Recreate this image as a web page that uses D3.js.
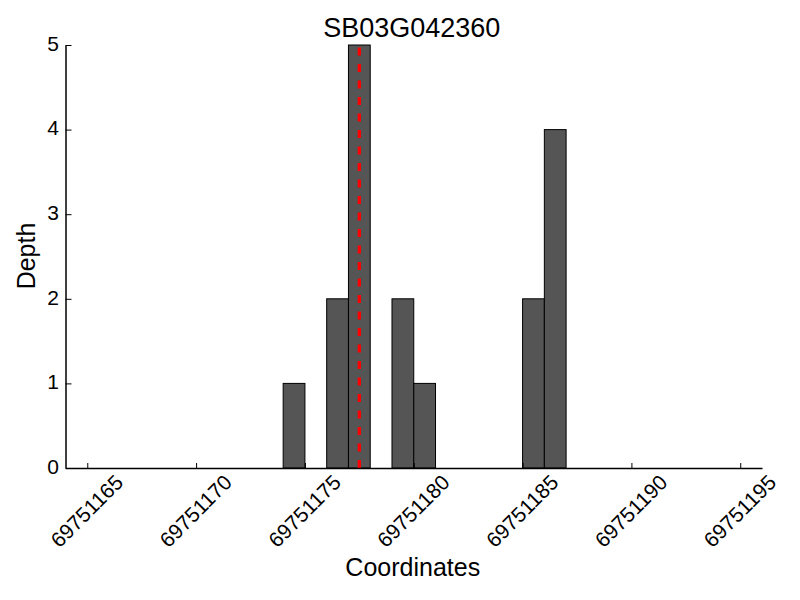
<!DOCTYPE html>
<html>
<head>
<meta charset="utf-8">
<style>
  body { margin: 0; background: #fff; }
  text { font-family: "Liberation Sans", Arial, sans-serif; fill: #000; }
</style>
</head>
<body>
<div id="chart"></div>
<script src="https://cdnjs.cloudflare.com/ajax/libs/d3/7.8.5/d3.min.js"></script>
<script>
  // Data
  const title = "SB03G042360";
  const positions = [69751174, 69751176, 69751177, 69751179, 69751180, 69751185, 69751186];
  const depths = [1, 2, 5, 2, 1, 2, 4];
  const xTicks = [69751165, 69751170, 69751175, 69751180, 69751185, 69751190, 69751195];
  const yTicks = [0, 1, 2, 3, 4, 5];
  const markerPos = 69751177.5;

  const width = 800, height = 600;
  const margin = {left: 65.5, right: 38, top: 45, bottom: 132};

  const svg = d3.create("svg")
    .attr("width", width)
    .attr("height", height);

  const x = d3.scaleLinear()
    .domain([69751164, 69751196])
    .range([margin.left, width - margin.right]);

  const y = d3.scaleLinear()
    .domain([0, 5])
    .range([height - margin.bottom, margin.top]);

  // bars, one coordinate wide
  svg.append("g")
    .selectAll("rect")
    .data(positions)
    .join("rect")
    .attr("x", d => x(d))
    .attr("y", (d, i) => y(depths[i]))
    .attr("width", d => x(d + 1) - x(d))
    .attr("height", (d, i) => y(0) - y(depths[i]))
    .attr("fill", "#555555")
    .attr("stroke", "#000")
    .attr("stroke-width", 1);

  // red dashed marker, drawn from the bottom up
  svg.append("line")
    .attr("x1", x(markerPos)).attr("x2", x(markerPos))
    .attr("y1", y(0)).attr("y2", y(5))
    .attr("stroke", "#ff0000")
    .attr("stroke-width", 3.3)
    .attr("stroke-dasharray", "8,8.5");

  // x axis, ticks point inward
  const xAxis = svg.append("g")
    .attr("transform", `translate(0,${y(0)})`)
    .call(d3.axisBottom(x).tickValues(xTicks).tickSizeInner(-5).tickSizeOuter(0).tickFormat(d3.format("d")));
  xAxis.select(".domain").attr("stroke-width", 1.5);
  xAxis.selectAll(".tick line").attr("stroke-width", 1);
  xAxis.selectAll(".tick text")
    .attr("font-size", 21)
    .attr("font-family", null)
    .attr("text-anchor", "middle")
    .attr("dominant-baseline", "central")
    .attr("y", 0).attr("dy", null)
    .attr("transform", "translate(-1,43) rotate(-45)");

  // y axis
  const yAxis = svg.append("g")
    .attr("transform", `translate(${margin.left},0)`)
    .call(d3.axisLeft(y).tickValues(yTicks).tickSizeInner(-6).tickSizeOuter(0).tickFormat(d3.format("d")));
  yAxis.select(".domain").attr("stroke-width", 1.5);
  yAxis.selectAll(".tick line").attr("stroke-width", 1);
  yAxis.selectAll(".tick text")
    .attr("font-size", 21)
    .attr("font-family", null)
    .attr("x", -6.5)
    .attr("dy", "0.25em");

  // labels
  svg.append("text")
    .attr("x", (x.range()[0] + x.range()[1]) / 2 - 2)
    .attr("y", 37)
    .attr("text-anchor", "middle")
    .attr("font-size", 27)
    .text(title);

  svg.append("text")
    .attr("x", (x.range()[0] + x.range()[1]) / 2 - 1)
    .attr("y", 576)
    .attr("text-anchor", "middle")
    .attr("font-size", 25)
    .text("Coordinates");

  svg.append("text")
    .attr("transform", "translate(35,256) rotate(-90)")
    .attr("text-anchor", "middle")
    .attr("font-size", 25)
    .text("Depth");

  d3.select("#chart").node().appendChild(svg.node());
</script>
</body>
</html>
